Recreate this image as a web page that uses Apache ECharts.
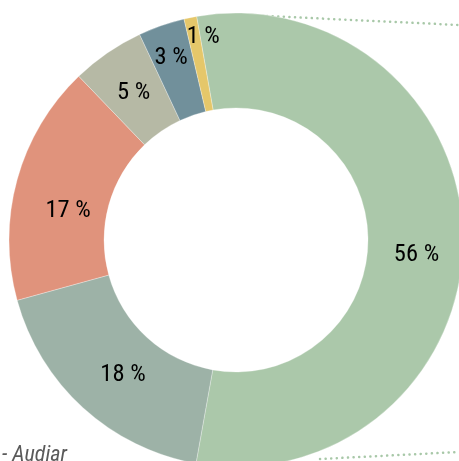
<!DOCTYPE html>
<html>
<head>
<meta charset="utf-8">
<script src="https://cdn.jsdelivr.net/npm/echarts@6/dist/echarts.min.js"></script>
<style>
  html, body { margin: 0; padding: 0; background: #fff; }
  #chart { width: 459px; height: 461px; }
</style>
</head>
<body>
<div id="chart"></div>
<script>
// slice shares, clockwise from the top
var categories = ['A', 'B', 'C', 'D', 'E', 'F'];
var shares = [55.6, 17.9, 17.1, 5.2, 3.3, 0.9];
var colors = ['#abc8aa', '#9db2a7', '#e0937c', '#b6b9a5', '#71909b', '#e5c76a'];
var source = '- Audiar';

// nudges so the labels sit where the original put them
var labelShift = [[-2, 15], [10, 0], [8, 19], [1, 3], [-5, -10], [4, -24]];

var chart = echarts.init(document.getElementById('chart'));

var pieData = [];
for (var i = 0; i < categories.length; i++) {
  pieData.push({
    name: categories[i],
    value: shares[i],
    itemStyle: { color: colors[i] }
  });
}

var dots = { stroke: '#a8c8a8', lineWidth: 2.5, lineDash: [0.1, 5.5], lineCap: 'round' };

chart.setOption({
  animation: false,
  graphic: [{
    type: 'line',
    shape: { x1: 267, y1: 16, x2: 459, y2: 25 },
    style: dots
  }, {
    type: 'line',
    shape: { x1: 320, y1: 459, x2: 459, y2: 452 },
    style: dots
  }, {
    type: 'text',
    left: 2,
    top: 444,
    style: {
      text: source,
      fill: '#5a5a5a',
      font: 'italic 22px "Roboto Condensed", "Liberation Sans Narrow", Roboto, sans-serif'
    }
  }],
  series: [{
    type: 'pie',
    center: [236, 240],
    radius: [132, 227],
    startAngle: 100,
    clockwise: true,
    avoidLabelOverlap: false,
    itemStyle: { borderColor: '#fff', borderWidth: 0.3 },
    label: {
      position: 'inside',
      color: '#000',
      fontSize: 24.5,
      fontFamily: '"Roboto Condensed", "Liberation Sans Narrow", Roboto, sans-serif',
      formatter: function (p) {
        return Math.round(p.percent) + ' %';
      }
    },
    labelLayout: function (p) {
      return {
        dx: labelShift[p.dataIndex][0],
        dy: labelShift[p.dataIndex][1],
        hideOverlap: false
      };
    },
    labelLine: { show: false },
    emphasis: { disabled: true },
    data: pieData
  }]
});
</script>
</body>
</html>
